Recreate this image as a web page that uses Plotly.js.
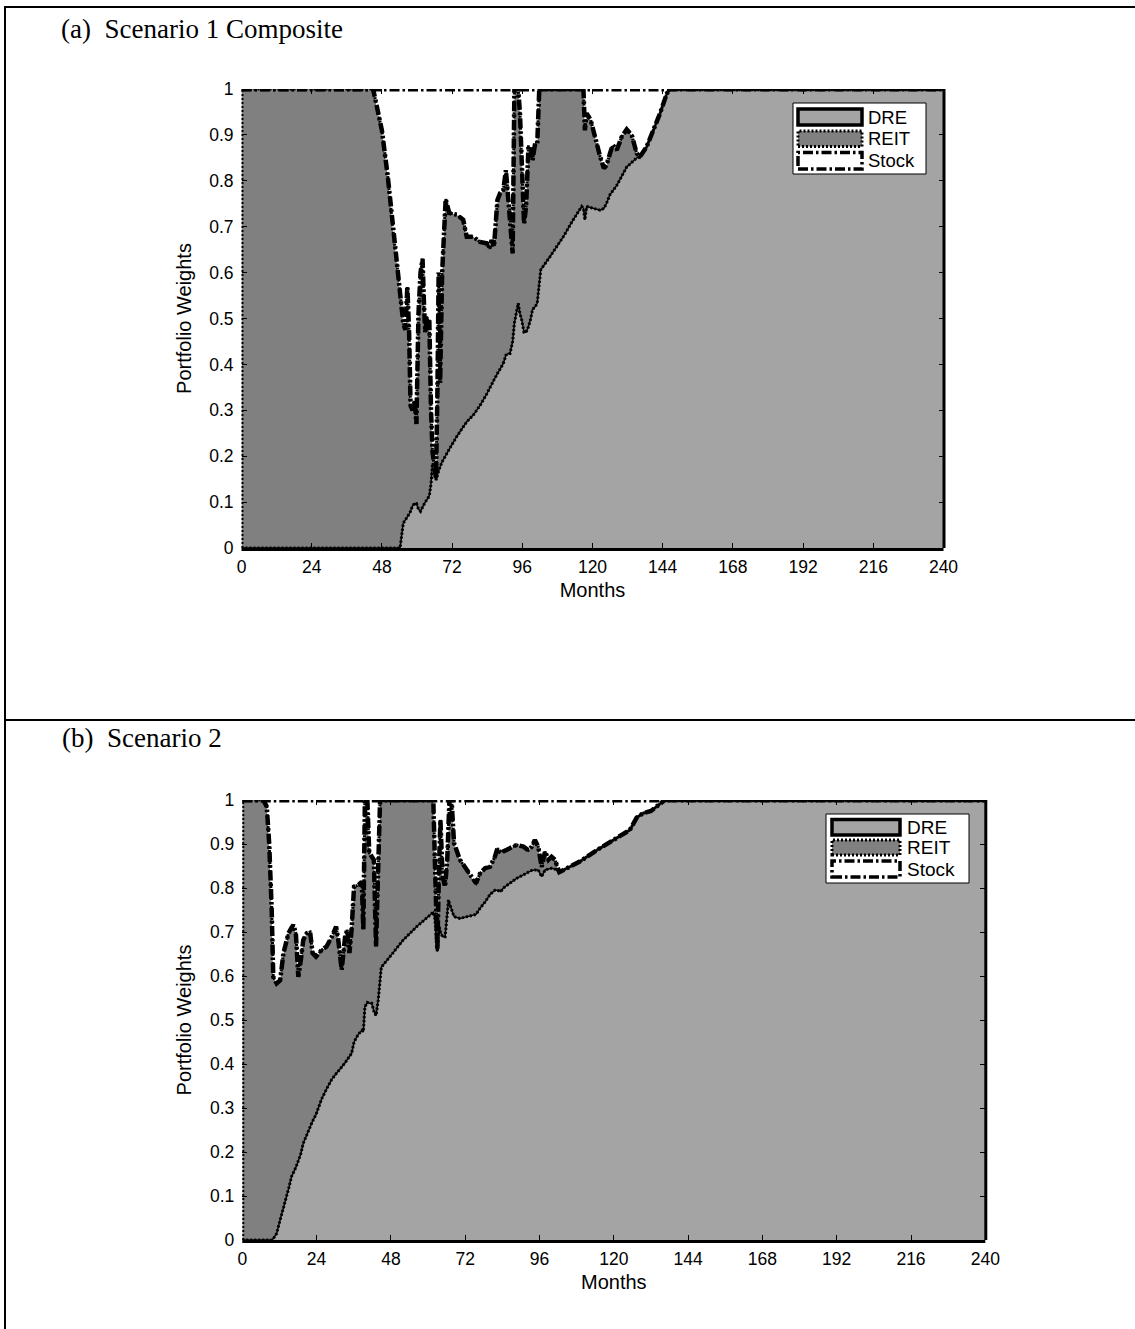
<!DOCTYPE html>
<html>
<head>
<meta charset="utf-8">
<script src="https://cdn.plot.ly/plotly-3.0.1.min.js"></script>
<style>
html,body{margin:0;padding:0;background:#ffffff;}
#chart{width:1135px;height:1329px;}
</style>
</head>
<body>
<div id="chart"></div>
<script>
// ---------------- data ----------------
const seriesNames = ['DRE', 'REIT', 'Stock'];
const panelTitles = ['(a)\u00a0\u00a0Scenario 1 Composite', '(b)\u00a0\u00a0Scenario 2'];
const xTitle = 'Months';
const yTitle = 'Portfolio Weights';
const xTickVals = [0, 24, 48, 72, 96, 120, 144, 168, 192, 216, 240];
const xTickText = ['0', '24', '48', '72', '96', '120', '144', '168', '192', '216', '240'];
const yTickVals = [0, 0.1, 0.2, 0.3, 0.4, 0.5, 0.6, 0.7, 0.8, 0.9, 1];
const yTickText = ['0', '0.1', '0.2', '0.3', '0.4', '0.5', '0.6', '0.7', '0.8', '0.9', '1'];

// Panel (a) Scenario 1 Composite
const monthsA = [
  0, 45, 46, 48, 50, 52, 53.5, 54.2,
  55.3, 56, 56.7, 57.3, 57.8, 58.5, 59.2, 59.8,
  60.5, 61.2, 61.9, 62.4, 62.8, 63.4, 64.2, 64.8,
  65.3, 65.9, 66.5, 67.0, 67.4, 67.9, 68.6, 69.8,
  71, 73.6, 75.8, 77, 79.3, 81.5, 83.8, 84.7,
  85.5, 86.3, 87.5, 88.4, 89.5, 90.4, 91.2, 91.8,
  92.7, 93.3, 94.6, 95.2, 95.8, 96.6, 97.3, 98.1,
  98.9, 99.5, 100.3, 101.1, 101.8, 102.3, 105.5, 110,
  113.4, 116.3, 116.9, 117.4, 118.0, 119.4, 121.4, 122.6,
  123.9, 124.8, 126, 126.9, 128.3, 130, 131.7, 133.4,
  135.1, 136.2, 138.5, 140.8, 143.1, 145.4, 146.5, 240
];
const dreA = [
  0, 0, 0, 0, 0, 0, 0, 0,
  0.054, 0.06, 0.068, 0.074, 0.08, 0.092, 0.097, 0.097,
  0.085, 0.08, 0.088, 0.097, 0.10, 0.105, 0.114, 0.14,
  0.184, 0.177, 0.148, 0.16, 0.17, 0.177, 0.188, 0.20,
  0.215, 0.243, 0.262, 0.275, 0.29, 0.31, 0.335, 0.345,
  0.355, 0.366, 0.38, 0.39, 0.402, 0.42, 0.424, 0.424,
  0.45, 0.49, 0.533, 0.51, 0.497, 0.47, 0.47, 0.482,
  0.50, 0.52, 0.525, 0.533, 0.58, 0.606, 0.635, 0.678,
  0.715, 0.744, 0.74, 0.715, 0.744, 0.742, 0.738, 0.736,
  0.74, 0.751, 0.77, 0.778, 0.79, 0.81, 0.83, 0.84,
  0.85, 0.852, 0.874, 0.91, 0.947, 0.99, 1, 1
];
const reitA = [
  1, 1, 0.97, 0.91, 0.81, 0.68, 0.60, 0.55,
  0.436, 0.415, 0.502, 0.396, 0.23, 0.208, 0.223, 0.173,
  0.425, 0.52, 0.542, 0.433, 0.37, 0.395, 0.386, 0.16,
  0.026, 0.003, 0.002, 0.19, 0.43, 0.183, 0.412, 0.56,
  0.515, 0.483, 0.453, 0.403, 0.388, 0.357, 0.329, 0.308,
  0.316, 0.29, 0.378, 0.383, 0.378, 0.403, 0.341, 0.305,
  0.192, 0.51, 0.467, 0.437, 0.341, 0.237, 0.274, 0.392,
  0.374, 0.325, 0.353, 0.347, 0.42, 0.394, 0.365, 0.322,
  0.285, 0.256, 0.26, 0.195, 0.203, 0.19, 0.142, 0.117,
  0.087, 0.083, 0.09, 0.10, 0.077, 0.086, 0.082, 0.06,
  0.01, 0, 0, 0, 0, 0, 0, 0
];
const stockA = [
  0, 0, 0.03, 0.09, 0.19, 0.32, 0.40, 0.45,
  0.51, 0.525, 0.43, 0.53, 0.69, 0.70, 0.68, 0.73,
  0.49, 0.40, 0.37, 0.47, 0.53, 0.50, 0.50, 0.70,
  0.79, 0.82, 0.85, 0.65, 0.40, 0.64, 0.40, 0.24,
  0.27, 0.274, 0.285, 0.322, 0.322, 0.333, 0.336, 0.347,
  0.329, 0.344, 0.242, 0.227, 0.22, 0.177, 0.235, 0.271,
  0.358, 0, 0, 0.053, 0.162, 0.293, 0.256, 0.126,
  0.126, 0.155, 0.122, 0.12, 0, 0, 0, 0,
  0, 0, 0, 0.09, 0.053, 0.068, 0.12, 0.147,
  0.173, 0.166, 0.14, 0.122, 0.133, 0.104, 0.088, 0.10,
  0.14, 0.148, 0.126, 0.09, 0.053, 0.01, 0, 0
];

// Panel (b) Scenario 2
const monthsB = [
  0, 6.8, 7.9, 8.7, 9.5, 10, 11.1, 12.2,
  13.3, 14.3, 14.9, 15.9, 16.5, 17.3, 18.1, 18.9,
  19.7, 20.8, 21.9, 22.7, 23.8, 25.6, 27.2, 28.9,
  30.3, 31, 32.1, 33.2, 33.9, 34.6, 35.3, 36.1,
  37.5, 38.6, 39.1, 39.6, 40.4, 41, 41.8, 42.5,
  43.2, 43.9, 44.5, 44.9, 47.7, 52, 56.3, 60.6,
  61.7, 62.2, 63, 63.6, 64, 64.7, 65.5, 66.2,
  66.6, 66.9, 67.6, 68.4, 70.3, 72.5, 74.6, 75.5,
  76.8, 78.4, 80, 81.6, 82.4, 83.5, 84.3, 86.5,
  88.6, 90.8, 92.4, 93.5, 94.5, 95.6, 96.7, 97.8,
  98.9, 99.9, 101, 102.4, 109, 114.5, 119.9, 125.2,
  127.4, 129.5, 132, 134.5, 136.5, 240
];
const dreB = [
  0, 0, 0, 0, 0, 0.003, 0.015, 0.045,
  0.072, 0.098, 0.115, 0.144, 0.152, 0.165, 0.18, 0.196,
  0.22, 0.24, 0.258, 0.27, 0.285, 0.32, 0.343, 0.365,
  0.378, 0.383, 0.393, 0.403, 0.41, 0.418, 0.424, 0.45,
  0.468, 0.476, 0.473, 0.53, 0.54, 0.538, 0.538, 0.52,
  0.51, 0.545, 0.60, 0.62, 0.644, 0.682, 0.712, 0.739,
  0.745, 0.73, 0.655, 0.712, 0.70, 0.689, 0.689, 0.74,
  0.773, 0.765, 0.75, 0.735, 0.731, 0.735, 0.738, 0.74,
  0.754, 0.768, 0.785, 0.795, 0.795, 0.792, 0.80, 0.812,
  0.822, 0.83, 0.835, 0.84, 0.841, 0.841, 0.826, 0.841,
  0.843, 0.845, 0.843, 0.836, 0.86, 0.886, 0.909, 0.932,
  0.96, 0.97, 0.975, 0.99, 1, 1
];
const reitB = [
  1, 1, 0.985, 0.90, 0.75, 0.595, 0.568, 0.545,
  0.58, 0.582, 0.582, 0.566, 0.564, 0.532, 0.418, 0.44,
  0.462, 0.457, 0.442, 0.382, 0.359, 0.339, 0.324, 0.324,
  0.334, 0.299, 0.221, 0.286, 0.295, 0.234, 0.281, 0.353,
  0.339, 0.338, 0.232, 0.47, 0.46, 0.342, 0.333, 0.344,
  0.157, 0.319, 0.40, 0.38, 0.356, 0.318, 0.288, 0.261,
  0.255, 0.134, 0.004, 0.152, 0.255, 0.137, 0.114, 0.124,
  0.157, 0.235, 0.25, 0.167, 0.133, 0.105, 0.08, 0.071,
  0.079, 0.077, 0.063, 0.076, 0.095, 0.087, 0.083, 0.078,
  0.076, 0.064, 0.051, 0.054, 0.068, 0.053, 0.022, 0.042,
  0.021, 0.026, 0.021, 0, 0, 0, 0, 0,
  0, 0, 0, 0, 0, 0
];
const stockB = [
  0, 0, 0.015, 0.10, 0.25, 0.402, 0.417, 0.41,
  0.348, 0.32, 0.303, 0.29, 0.284, 0.303, 0.402, 0.364,
  0.318, 0.303, 0.30, 0.348, 0.356, 0.341, 0.333, 0.311,
  0.288, 0.318, 0.386, 0.311, 0.295, 0.348, 0.295, 0.197,
  0.193, 0.186, 0.295, 0, 0, 0.12, 0.129, 0.136,
  0.333, 0.136, 0, 0, 0, 0, 0, 0,
  0, 0.136, 0.341, 0.136, 0.045, 0.174, 0.197, 0.136,
  0.07, 0, 0, 0.098, 0.136, 0.16, 0.182, 0.189,
  0.167, 0.155, 0.152, 0.129, 0.11, 0.121, 0.117, 0.11,
  0.102, 0.106, 0.114, 0.106, 0.091, 0.106, 0.152, 0.117,
  0.136, 0.129, 0.136, 0.164, 0.14, 0.114, 0.091, 0.068,
  0.04, 0.03, 0.025, 0.01, 0, 0
];

// ---------------- styling / layout ----------------
const W = 1135, H = 1329;
const fx = p => p / W;
const fy = p => 1 - p / H;

const colDRE = '#a4a4a4';
const colREIT = '#808080';
const colStock = '#ffffff';
const dashStock = '10px,3px,2.5px,3px';
const dotREIT = '2px,2px';
const sansFont = 'Liberation Sans, Arial, sans-serif';
const serifFont = 'Liberation Serif, Times New Roman, serif';

function cum(a, b) { return a.map((v, i) => v + b[i]); }

function panelTraces(months, dre, reit, stock, xa, ya, sg) {
  const mid = cum(dre, reit);
  const top = cum(mid, stock);
  const base = { xaxis: xa, yaxis: ya, hoverinfo: 'skip', showlegend: false, type: 'scatter', mode: 'lines' };
  return [
    Object.assign({}, base, { name: seriesNames[0], x: months, y: dre, stackgroup: sg, fillcolor: colDRE, line: { width: 0, color: colDRE } }),
    Object.assign({}, base, { name: seriesNames[1], x: months, y: reit, stackgroup: sg, fillcolor: colREIT, line: { width: 0, color: colREIT } }),
    Object.assign({}, base, { name: seriesNames[2], x: months, y: stock, stackgroup: sg, fillcolor: colStock, line: { width: 0, color: colStock } }),
    // DRE edge
    Object.assign({}, base, { x: months, y: dre, line: { color: 'black', width: 1.5 } }),
    // REIT edges
    Object.assign({}, base, { x: months, y: dre, line: { color: 'black', width: 3, dash: dotREIT } }),
    Object.assign({}, base, { x: [months[0], months[0]], y: [dre[0], mid[0]], line: { color: 'black', width: 4, dash: dotREIT } }),
    Object.assign({}, base, { x: months, y: mid, line: { color: 'black', width: 3, dash: dotREIT } }),
    // Stock edges
    Object.assign({}, base, { x: months, y: mid, line: { color: 'black', width: 4.5, dash: dashStock } }),
    Object.assign({}, base, { x: months, y: top, line: { color: 'black', width: 5, dash: dashStock } })
  ];
}

const traces = [].concat(
  panelTraces(monthsA, dreA, reitA, stockA, 'x', 'y', 'a'),
  panelTraces(monthsB, dreB, reitB, stockB, 'x2', 'y2', 'b')
);

const tickFont = { family: sansFont, size: 17.5, color: 'black' };
const titleFont = { family: sansFont, size: 20, color: 'black' };

function xAxis(domain, anchor) {
  return {
    domain: domain, anchor: anchor, range: [0, 240],
    tickmode: 'array', tickvals: xTickVals, ticktext: xTickText,
    ticks: 'inside', ticklen: 5, tickwidth: 1, tickcolor: 'black',
    mirror: 'ticks', showline: false, showgrid: false, zeroline: false,
    tickfont: tickFont, ticklabelstandoff: 6,
    title: { text: xTitle, font: titleFont, standoff: 7 }
  };
}
function yAxis(domain, anchor) {
  return {
    domain: domain, anchor: anchor, range: [0, 1],
    tickmode: 'array', tickvals: yTickVals, ticktext: yTickText,
    ticks: 'inside', ticklen: 5, tickwidth: 1, tickcolor: 'black',
    mirror: 'ticks', showline: false, showgrid: false, zeroline: false,
    tickfont: tickFont, ticklabelstandoff: 7,
    title: { text: yTitle, font: titleFont, standoff: 12 }
  };
}

const shapes = [];
const annotations = [];

// page frame (table borders)
function hline(y, x0, x1, w) {
  shapes.push({ type: 'line', xref: 'paper', yref: 'paper', x0: fx(x0), x1: fx(x1), y0: fy(y), y1: fy(y), line: { color: 'black', width: w } });
}
function vline(x, y0, y1, w) {
  shapes.push({ type: 'line', xref: 'paper', yref: 'paper', x0: fx(x), x1: fx(x), y0: fy(y0), y1: fy(y1), line: { color: 'black', width: w } });
}
hline(7, 4, 1135, 2);
hline(720, 4, 1135, 2);
vline(5, 6, 1329, 2);

// axis box lines (bottom and right, thick)
function boxLines(xr, yr) {
  shapes.push({ type: 'line', xref: xr + ' domain', yref: yr + ' domain', x0: 0, x1: 1,
    ysizemode: 'pixel', yanchor: 0, y0: -1.5, y1: -1.5, line: { color: 'black', width: 3 }, layer: 'above' });
  shapes.push({ type: 'line', xref: xr + ' domain', yref: yr + ' domain', y0: 0, y1: 1,
    xsizemode: 'pixel', xanchor: 1, x0: 0.5, x1: 0.5, line: { color: 'black', width: 3 }, layer: 'above' });
}
boxLines('x', 'y');
boxLines('x2', 'y2');

// panel titles
annotations.push({ xref: 'paper', yref: 'paper', x: fx(59), y: fy(29), xanchor: 'left', yanchor: 'middle',
  text: panelTitles[0], showarrow: false, font: { family: serifFont, size: 27, color: 'black' } });
annotations.push({ xref: 'paper', yref: 'paper', x: fx(60), y: fy(738), xanchor: 'left', yanchor: 'middle',
  text: panelTitles[1], showarrow: false, font: { family: serifFont, size: 27, color: 'black' } });

// manual legend (patch-style entries)
function legend(box, rectX0, rectX1, rows, textX, fontSize) {
  shapes.push({ type: 'rect', xref: 'paper', yref: 'paper', x0: fx(box[0]), x1: fx(box[1]), y0: fy(box[3]), y1: fy(box[2]),
    fillcolor: 'white', line: { color: 'black', width: 1 }, layer: 'above' });
  const styles = [
    { fill: colDRE, dash: 'solid', width: 3.5 },
    { fill: colREIT, dash: dotREIT, width: 3 },
    { fill: colStock, dash: dashStock, width: 3.5 }
  ];
  rows.forEach((r, i) => {
    shapes.push({ type: 'rect', xref: 'paper', yref: 'paper', x0: fx(rectX0), x1: fx(rectX1), y0: fy(r[1]), y1: fy(r[0]),
      fillcolor: styles[i].fill, line: { color: 'black', width: styles[i].width, dash: styles[i].dash }, layer: 'above' });
    annotations.push({ xref: 'paper', yref: 'paper', x: fx(textX), y: fy((r[0] + r[1]) / 2), xanchor: 'left', yanchor: 'middle',
      text: seriesNames[i], showarrow: false, font: { family: sansFont, size: fontSize, color: 'black' } });
  });
}
legend([793, 926, 103, 174], 798, 862, [[109, 125], [131, 146.5], [152.5, 169]], 866, 18.5);
legend([826, 969, 814, 883], 832, 900, [[819.5, 835], [840, 855], [861, 877]], 905, 19);

const layout = {
  width: W, height: H,
  margin: { l: 0, r: 0, t: 0, b: 0 },
  paper_bgcolor: 'white', plot_bgcolor: 'white',
  showlegend: false, hovermode: false,
  xaxis: xAxis([fx(241.5), fx(943.5)], 'y'),
  yaxis: yAxis([fy(548), fy(89)], 'x'),
  xaxis2: xAxis([fx(242.3), fx(985.3)], 'y2'),
  yaxis2: yAxis([fy(1240), fy(800)], 'x2'),
  shapes: shapes,
  annotations: annotations
};

Plotly.newPlot('chart', traces, layout, { staticPlot: true, displayModeBar: false });
</script>
</body>
</html>
